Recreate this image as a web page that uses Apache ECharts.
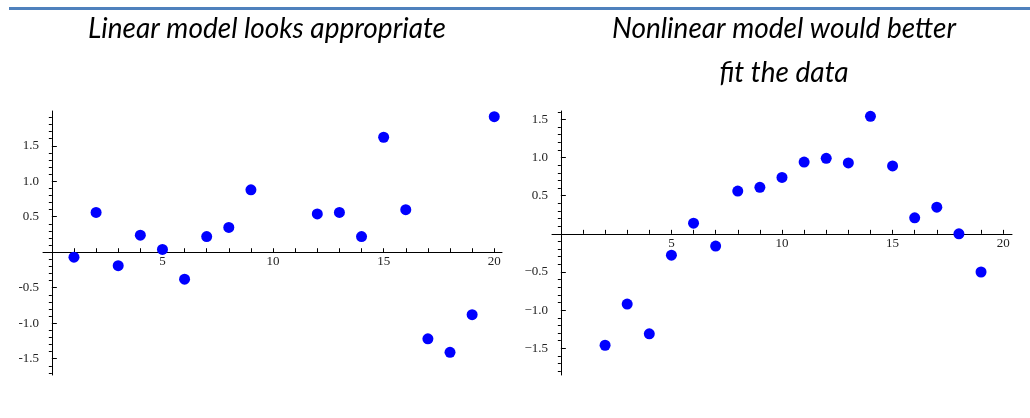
<!DOCTYPE html>
<html>
<head>
<meta charset="utf-8">
<script src="https://cdn.jsdelivr.net/npm/echarts@6/dist/echarts.min.js"></script>
<style>
  html, body { margin: 0; padding: 0; background: #fff; }
  #main { width: 1030px; height: 418px; }
</style>
</head>
<body>
<div id="main"></div>
<script>
// left panel: residuals that look random
const linearX = [1, 2, 3, 4, 5, 6, 7, 8, 9, 12, 13, 14, 15, 16, 17, 18, 19, 20]
const linearY = [-0.07, 0.56, -0.19, 0.24, 0.04, -0.38, 0.22, 0.35, 0.88, 0.54, 0.56, 0.22, 1.62, 0.6, -1.22, -1.41, -0.88, 1.91]

// right panel: residuals with a curve in them
const nonlinearX = [2, 3, 4, 5, 6, 7, 8, 9, 10, 11, 12, 13, 14, 15, 16, 17, 18, 19]
const nonlinearY = [-1.46, -0.92, -1.31, -0.28, 0.14, -0.16, 0.56, 0.61, 0.74, 0.94, 0.99, 0.93, 1.54, 0.89, 0.21, 0.35, 0.0, -0.5]

const xLabelValues = [5, 10, 15, 20]
const xTickValues = [1, 2, 3, 4, 5, 6, 7, 8, 9, 10, 11, 12, 13, 14, 15, 16, 17, 18, 19, 20]
const yLabelValues = [-1.5, -1.0, -0.5, 0.5, 1.0, 1.5]
const yMinorLeft = [-1.7, -1.6, -1.4, -1.3, -1.2, -1.1, -0.9, -0.8, -0.7, -0.6, -0.4, -0.3, -0.2, -0.1,
  0.1, 0.2, 0.3, 0.4, 0.6, 0.7, 0.8, 0.9, 1.1, 1.2, 1.3, 1.4, 1.6, 1.7, 1.8, 1.9]
const yMinorRight = [-1.8, -1.7, -1.6, -1.4, -1.3, -1.2, -1.1, -0.9, -0.8, -0.7, -0.6, -0.4, -0.3, -0.2, -0.1,
  0.1, 0.2, 0.3, 0.4, 0.6, 0.7, 0.8, 0.9, 1.1, 1.2, 1.3, 1.4, 1.6]

const titleLeft = 'Linear model looks appropriate'
const titleRight = 'Nonlinear model would better\nfit the data'

const GRID_H = 264
const labelFont = { fontFamily: 'Liberation Serif', fontSize: 13, color: '#222' }
const lineStyle = { color: '#000', width: 1 }
const titleStyle = { fontFamily: 'Lato', fontStyle: 'italic', fontWeight: 'normal', fontSize: 28, lineHeight: 44, color: '#000', align: 'center' }

const pairs = (xs, ys) => xs.map((x, i) => [x, ys[i]])

// x axis is lifted up to y = 0 with a negative offset so the labels go with it
const makeX = (gridIndex, max, yMin, yMax) => ({
  type: 'value', gridIndex, min: -0.4, max,
  offset: -GRID_H * (0 - yMin) / (yMax - yMin),
  splitLine: { show: false },
  axisLine: { show: true, onZero: false, lineStyle },
  axisTick: { show: true, inside: true, length: 4, customValues: xTickValues, lineStyle },
  axisLabel: { ...labelFont, margin: 3, customValues: xLabelValues, formatter: v => String(v) }
})

const makeYMajor = (gridIndex, min, max, xIdx, minus) => ({
  type: 'value', gridIndex, min, max,
  splitLine: { show: false },
  axisLine: { show: true, onZero: true, onZeroAxisIndex: xIdx, lineStyle },
  axisTick: { show: true, inside: true, length: 5, customValues: yLabelValues, lineStyle },
  axisLabel: {
    ...labelFont, margin: 4, customValues: yLabelValues,
    formatter: v => (v < 0 ? minus : '') + Math.abs(v).toFixed(1)
  }
})

const makeYMinor = (gridIndex, min, max, xIdx, ticks) => ({
  type: 'value', gridIndex, min, max,
  splitLine: { show: false },
  axisLine: { show: false, onZero: true, onZeroAxisIndex: xIdx },
  axisTick: { show: true, inside: true, length: 3, customValues: ticks, lineStyle },
  axisLabel: { show: false }
})

const myChart = echarts.init(document.getElementById('main'))
const option = {
  backgroundColor: '#fff',
  animation: false,
  graphic: [
    { type: 'rect', shape: { x: 9, y: 7, width: 1021, height: 3 }, style: { fill: '#4f81bd' } }
  ],
  title: [
    { text: titleLeft, left: 262, top: 2, textAlign: 'center', textStyle: titleStyle },
    { text: titleRight, left: 779, top: 2, textAlign: 'center', textStyle: titleStyle }
  ],
  grid: [
    { left: 43, top: 111, width: 459, height: GRID_H },
    { left: 552, top: 111, width: 460, height: GRID_H }
  ],
  xAxis: [makeX(0, 20.35, -1.73, 1.99), makeX(1, 20.4, -1.85, 1.61)],
  yAxis: [
    makeYMajor(0, -1.73, 1.99, 0, '-'),
    makeYMinor(0, -1.73, 1.99, 0, yMinorLeft),
    makeYMajor(1, -1.85, 1.61, 1, '\u2212'),
    makeYMinor(1, -1.85, 1.61, 1, yMinorRight)
  ],
  series: [
    {
      type: 'scatter', xAxisIndex: 0, yAxisIndex: 0, data: pairs(linearX, linearY),
      symbolSize: 11, itemStyle: { color: '#0000ff', opacity: 1 }, silent: true
    },
    {
      type: 'scatter', xAxisIndex: 1, yAxisIndex: 2, data: pairs(nonlinearX, nonlinearY),
      symbolSize: 11, itemStyle: { color: '#0000ff', opacity: 1 }, silent: true
    }
  ]
}
option && myChart.setOption(option)
</script>
</body>
</html>
